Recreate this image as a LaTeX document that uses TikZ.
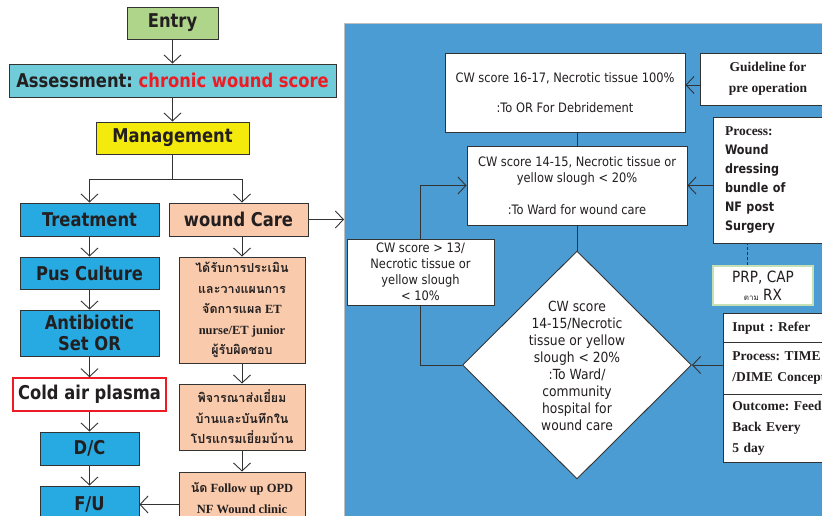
\documentclass[tikz,border=0pt]{standalone}
\usepackage{fontspec}
\setmainfont{Liberation Serif}
\newfontfamily\boxfont[FakeStretch=0.86]{DejaVu Sans}
\newfontfamily\cwfont[FakeStretch=0.88]{DejaVu Sans}
\newfontfamily\thaifont[Script=Thai]{Loma}
\newcommand{\thaitxt}[1]{{\thaifont #1}}
\frenchspacing
\usetikzlibrary{shapes.geometric, arrows.meta, positioning, calc}
\definecolor{entrygreen}{HTML}{AED58A}
\definecolor{assessteal}{HTML}{70CCD8}
\definecolor{mgmtyellow}{HTML}{F4EA0C}
\definecolor{stepblue}{HTML}{27AAE1}
\definecolor{carepeach}{HTML}{F9CBAC}
\definecolor{panelblue}{HTML}{4B9CD3}
\definecolor{alertred}{HTML}{ED1C24}
\definecolor{linegray}{HTML}{333333}
\definecolor{textdark}{HTML}{231F20}
\definecolor{prpgreen}{HTML}{C5E0B4}

\begin{document}
\begin{tikzpicture}[
  x=1pt, y=-1pt,
  every node/.style={inner sep=0pt, text=textdark},
  link/.style={draw=linegray, line width=0.9pt},
  arr/.style={link, -{Straight Barb[length=8pt, width=17pt]}},
  flow/.style={rectangle, draw=linegray, line width=0.9pt, align=center,
               font=\boxfont\bfseries\fontsize{19}{21}\selectfont},
  stepbox/.style={flow, fill=stepblue, minimum width=139pt},
  carebox/.style={rectangle, draw=linegray, line width=0.9pt, fill=carepeach, align=center,
                  minimum width=126pt, font=\bfseries\fontsize{12.5}{20.5}\selectfont},
  cwbox/.style={rectangle, draw=linegray, line width=0.9pt, fill=white, align=center,
                font=\cwfont\fontsize{13}{16}\selectfont},
  notebox/.style={rectangle, draw=linegray, line width=0.9pt, fill=white,
                  font=\bfseries\fontsize{13.5}{21}\selectfont},
  ipobox/.style={notebox, anchor=north west, align=left, text width=119pt, inner xsep=9pt},
]
\useasboundingbox (0,0) rectangle (822,516);
\clip (0,0) rectangle (822,516);

% blue panel
\node[rectangle, draw=black!25, line width=0.8pt, fill=panelblue, anchor=north west,
      minimum width=506pt, minimum height=517pt] (panel) at (344,23) {};

% left column
\node[flow, fill=entrygreen, minimum width=91pt, minimum height=32pt] (entry) at (172.5,23) {Entry};
\node[flow, fill=assessteal, minimum width=327pt, minimum height=33pt] (assess) at (172.5,80.5)
  {Assessment: \textcolor{alertred}{chronic wound score}};
\node[flow, fill=mgmtyellow, minimum width=153pt, minimum height=32pt] (mgmt) at (172.5,138) {Management};
\node[stepbox, minimum height=33pt] (treat) at (89.5,219.5) {Treatment};
\node[stepbox, minimum height=32pt] (pus) at (89.5,273) {Pus Culture};
\node[stepbox, minimum height=46pt] (abx) at (89.5,333) {Antibiotic\\Set OR};
\node[flow, draw=alertred, line width=1.5pt, fill=white, minimum width=153pt, minimum height=33pt]
  (plasma) at (89.5,394.5) {Cold air plasma};
\node[stepbox, minimum width=99pt, minimum height=33pt] (dc) at (89.5,448.5) {D/C};
\node[stepbox, minimum width=99pt, minimum height=37pt] (fu) at (89.5,504.5) {F/U};

% wound care column
\node[flow, fill=carepeach, minimum width=139pt, minimum height=33pt] (wcare) at (238.5,219.5) {wound Care};
\node[carebox, minimum height=106pt] (thai1) at (242,310)
  {\thaitxt{ได้รับการประเมิน}\\\thaitxt{และวางแผนการ}\\\thaitxt{จัดการแผล} ET\\nurse/ET junior\\\thaitxt{ผู้รับผิดชอบ}};
\node[carebox, minimum height=66pt] (thai2) at (242,417)
  {\thaitxt{พิจารณาส่งเยี่ยม}\\\thaitxt{บ้านและบันทึกใน}\\\thaitxt{โปรแกรมเยี่ยมบ้าน}};
\node[carebox, minimum height=52pt] (thai3) at (242,498) {\thaitxt{นัด} Follow up OPD\\NF Wound clinic};

% right panel
\node[cwbox, minimum width=240pt, minimum height=79pt] (boxA) at (565,92.5)
  {CW score 16-17, Necrotic tissue 100\%\\[14pt]:To OR For Debridement};
\node[cwbox, minimum width=220pt, minimum height=79pt] (boxB) at (577,185.5)
  {CW score 14-15, Necrotic tissue or\\yellow slough < 20\%\\[16pt]:To Ward for wound care};
\node[cwbox, minimum width=147pt, minimum height=66pt] (boxC) at (420.5,272)
  {CW score > 13/\\Necrotic tissue or\\yellow slough\\< 10\%};
\node[diamond, draw=linegray, line width=0.9pt, fill=white, minimum width=229pt, minimum height=228pt]
  (dia) at (577,365) {};
\node[align=center, font=\cwfont\fontsize{14}{17}\selectfont] (diatext) at (577,366)
  {CW score\\14-15/Necrotic\\tissue or yellow\\slough < 20\%\\:To Ward/\\community\\hospital for\\wound care};
\node[notebox, align=center, minimum width=136pt, minimum height=52pt] (guide) at (768,79)
  {Guideline for\\pre operation};
\node[notebox, align=left, text width=113pt, inner xsep=12pt, minimum height=126pt,
      font=\bfseries\fontsize{13.5}{19}\selectfont] (proc) at (781.5,180)
  {Process:\\\boxfont\fontsize{13}{19}\selectfont Wound\\dressing\\bundle of\\NF post\\Surgery};
\node[rectangle, draw=prpgreen, line width=1.2pt, fill=white, align=center, minimum width=100pt,
      minimum height=39pt, font=\cwfont\fontsize{15.5}{18}\selectfont] (prp) at (763,285.5)
  {PRP, CAP\\{\thaifont\fontsize{8}{8}\selectfont ตาม} RX};
\node[ipobox, minimum height=29pt] (ipoin) at (723,313) {Input : Refer};
\node[ipobox, minimum height=52pt] (ipoproc) at (723,342) {Process: TIME\\/DIME Concept};
\node[ipobox, minimum height=68pt] (ipoout) at (723,394) {Outcome: Feed\\Back Every\\5 day};

% left connectors
\draw[arr] (entry) -- (assess);
\draw[arr] (assess) -- (mgmt);
\coordinate (split) at (172.5,179);
\draw[link] (mgmt.south) -- (split);
\draw[arr] (split) -| (treat.north);
\draw[arr] (split) -| (wcare.north -| thai1.north);
\draw[arr] (treat) -- (pus);
\draw[arr] (pus) -- (abx);
\draw[arr] (abx) -- (plasma);
\draw[arr] (plasma) -- (dc);
\draw[arr] (dc) -- (fu);
\draw[arr] (wcare.south -| thai1.north) -- (thai1.north);
\draw[arr] (thai1) -- (thai2);
\draw[arr] (thai2) -- (thai3);
\draw[arr] (thai3.west |- fu.east) -- (fu.east);
\draw[arr] (wcare.east) -- (wcare.east -| panel.west);

% right connectors
\draw[link] (boxB.north) -- (boxB.north |- boxA.south);
\draw[link] (boxB.south) -- (dia.north);
\draw[arr] ([yshift=-6pt]guide.west) -- ([yshift=-6pt]guide.west -| boxA.east);
\draw[arr] (proc.west |- boxB.east) -- (boxB.east);
\draw[link, dash pattern=on 3pt off 2pt] ([xshift=-16pt]prp.north) -- ([xshift=-16pt]prp.north |- proc.south);
\draw[arr] (ipoproc.west |- dia.east) -- (dia.east);
\draw[link] (dia.west) -| (boxC.south);
\draw[arr] (boxC.north) |- (boxB.west);
\end{tikzpicture}
\end{document}
